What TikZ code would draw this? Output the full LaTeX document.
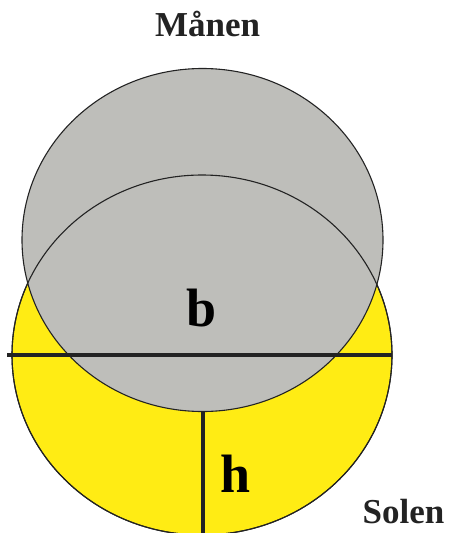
\documentclass[tikz,border=0pt]{standalone}
\usepackage{fontspec}
\setmainfont{Liberation Serif}
\usetikzlibrary{shapes.geometric}
\definecolor{moongray}{RGB}{190,190,186}
\definecolor{sunyellow}{RGB}{255,236,20}
\definecolor{ink}{RGB}{35,35,35}
\begin{document}
\begin{tikzpicture}[x=1pt,y=-1pt,
  disc/.style={ellipse, inner sep=0pt, outer sep=0pt, draw=ink, line width=1.1pt},
  bar/.style={draw=ink, line width=4pt},
  lbl/.style={font=\bfseries\fontsize{35}{40}\selectfont, text=ink, anchor=base, inner sep=0pt},
  sym/.style={font=\bfseries\fontsize{54}{60}\selectfont, text=black, anchor=base, inner sep=0pt}]
\useasboundingbox (0,0) rectangle (451,533);
\begin{scope}
\clip (0,0) rectangle (451,533);
\node[disc, fill=sunyellow, minimum width=380pt, minimum height=360pt] (sun) at (202,355) {};
\node[disc, fill=moongray, minimum width=361pt, minimum height=343pt] (moon) at (202.5,240) {};
\node[disc, minimum width=380pt, minimum height=360pt] (sunrim) at (sun.center) {};
\coordinate (bl) at ([xshift=-5pt]sun.west);
\draw[bar] (bl) -- (sun.east);
\draw[bar] (moon.south) -- (moon.south |- sun.south);
\end{scope}
\node[lbl] (maanen) at (207.5,36) {Månen};
\node[lbl] (solen) at (403.5,523) {Solen};
\node[sym] (b) at (202,326) {b};
\node[sym] (h) at (235.5,492) {h};
\end{tikzpicture}
\end{document}
